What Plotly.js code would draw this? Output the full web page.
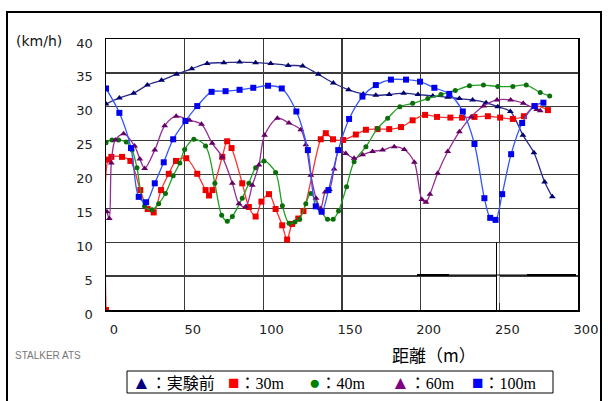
<!DOCTYPE html>
<html>
<head>
<meta charset="utf-8">
<script src="https://cdn.plot.ly/plotly-3.0.1.min.js"></script>
<style>
html,body{margin:0;padding:0;background:#fff;}
#chart{width:608px;height:401px;}
</style>
</head>
<body>
<div id="chart"></div>
<script>
// ---- data (distance m, speed km/h) ----
const xTicks = [0, 50, 100, 150, 200, 250, 300];
const yTicks = [0, 5, 10, 15, 20, 25, 30, 35, 40];
const seriesNames = ["実験前", "30m", "40m", "60m", "100m"];

const navyX = [0, 8.5, 17.6, 26.3, 35.3, 44.9, 54.5, 64.3, 74.9, 84.9, 95.1, 104.7, 115.8, 125, 134.9, 144.5, 154.2, 163.5, 171.5, 180, 189.2, 198.3, 207.7, 217.2, 224.6, 233, 241.6, 249, 257, 265, 272, 278.8, 283.7];
const navyY = [30.4, 31.3, 32.0, 33.2, 33.9, 34.8, 35.6, 36.4, 36.5, 36.6, 36.5, 36.4, 36.1, 36.0, 34.8, 33.5, 32.5, 31.9, 31.7, 31.8, 32.0, 31.8, 31.6, 31.4, 31.2, 31.0, 30.6, 30.0, 29.3, 25.8, 23.2, 18.9, 16.7];

const redX = [0, 1.3, 3.4, 10.2, 15.5, 21.8, 26.5, 30.3, 35, 39.9, 44.5, 51, 58, 63.3, 65.5, 67.7, 73.9, 77, 79.8, 86.6, 90.8, 95.1, 98.8, 103.6, 107.8, 112, 115.1, 118.3, 122.2, 125.5, 136.5, 139.7, 144.3, 150.7, 158.8, 165.2, 172.6, 180, 187.5, 194.9, 202.8, 210.4, 218.9, 226.3, 234.2, 242.7, 250.5, 258.6, 265.6, 272.4, 280.9];
const redY = [0, 22.2, 22.6, 22.6, 22.0, 17.7, 14.9, 14.4, 17.7, 20.1, 22.0, 22.4, 20.1, 17.7, 16.9, 17.7, 22.6, 24.9, 23.9, 18.7, 15.2, 13.8, 16.0, 17.1, 14.9, 12.5, 10.4, 12.7, 13.5, 14.6, 25.2, 26.1, 25.2, 25.1, 25.9, 26.6, 26.7, 26.7, 27.0, 28.0, 28.8, 28.5, 28.4, 28.4, 28.5, 28.6, 28.4, 28.2, 28.6, 30.1, 29.5];

const greenX = [0, 3.8, 8, 12.9, 16.6, 19.7, 24.5, 29.3, 33.5, 37.8, 42.7, 46.9, 50, 55.8, 63.3, 69.2, 73.5, 77.1, 80.3, 86.6, 90.8, 95.1, 100.4, 107.8, 112.1, 116.3, 120.1, 123.1, 127, 130.2, 136.5, 140.8, 144.4, 147.8, 152.9, 157.7, 165.2, 172.6, 179, 186.8, 194.9, 204.5, 212.9, 222, 231, 239.9, 249, 258.6, 267.1, 276, 282];
const greenY = [24.7, 25.1, 25.1, 24.8, 23.6, 21.0, 15.3, 14.8, 15.7, 17.2, 19.8, 21.7, 23.7, 25.2, 24.2, 18.7, 14.0, 13.1, 13.8, 16.5, 18.7, 21.0, 22.0, 20.3, 15.4, 12.8, 13.0, 13.4, 15.7, 17.2, 14.6, 13.4, 13.4, 14.6, 18.2, 21.9, 24.1, 26.8, 28.3, 30.0, 30.5, 31.2, 31.8, 32.4, 33.1, 33.2, 33.0, 33.0, 33.2, 32.1, 31.6];

const purpleX = [0.6, 2.1, 3.4, 5.9, 11.2, 18.2, 21.5, 24.6, 31, 37.3, 44.6, 53.1, 60.7, 67.5, 73.9, 80.3, 84.5, 88.7, 93, 97.2, 100.8, 108.9, 116.3, 123.8, 127, 130.2, 133.5, 136.5, 139.3, 142, 145, 148.2, 152.4, 157.7, 163.1, 169.4, 175.8, 183.2, 189.6, 196, 200.8, 203.4, 205.9, 210.8, 217.2, 224.6, 232.1, 240, 248.5, 257.2, 265.2, 273.8, 276];
const purpleY = [14.5, 13.5, 21.7, 25.1, 26.0, 24.2, 22.3, 20.9, 23.6, 27.2, 28.6, 28.0, 27.4, 24.6, 22.6, 18.7, 15.7, 15.2, 18.4, 21.4, 25.8, 28.3, 27.6, 26.6, 24.4, 19.9, 16.5, 15.0, 17.4, 17.8, 20.8, 23.6, 23.1, 22.4, 22.9, 23.4, 23.6, 24.1, 23.7, 21.8, 16.3, 15.9, 17.1, 20.2, 23.4, 26.3, 28.5, 30.1, 31.0, 31.0, 30.5, 29.6, 29.4];

const blueX = [0, 8.5, 15.9, 20.8, 25.5, 31, 36.7, 42.7, 50.5, 58, 67.1, 76, 84.9, 93.6, 103, 111.7, 121, 128.3, 133.3, 137.1, 141.4, 147.6, 154.5, 163, 171.5, 181.1, 190.7, 199.6, 208.7, 218.2, 226.8, 234.2, 240.5, 244.2, 247.6, 251.8, 257.5, 264.5, 272.4, 278];
const blueY = [32.7, 29.1, 23.9, 16.7, 15.9, 18.7, 21.8, 25.2, 27.9, 30.1, 32.2, 32.3, 32.5, 32.8, 33.1, 32.7, 29.3, 23.6, 15.3, 14.5, 17.7, 23.6, 28.2, 31.5, 33.2, 34.0, 34.0, 33.7, 32.8, 31.9, 29.3, 24.5, 16.5, 13.6, 13.3, 17.1, 23.0, 27.6, 30.1, 30.6];

// ---- layout helpers ----
const W = 608, H = 401;
const M = {l: 106, r: 30, t: 39, b: 91};
const PW = W - M.l - M.r, PH = H - M.t - M.b;
const px = v => (v - M.l) / PW;          // pixel x -> paper
const py = v => (H - M.b - v) / PH;      // pixel y -> paper

function mk(x, y, name, lineColor, markColor, symbol, size) {
  return {
    x: x, y: y, name: name, type: 'scatter', mode: 'lines+markers',
    line: {color: lineColor, width: 1.3, shape: 'spline', smoothing: 0.9},
    marker: {color: markColor, symbol: symbol, size: size,
             line: {color: markColor, width: 0}},
    hoverinfo: 'x+y'
  };
}

const traces = [
  mk(navyX, navyY, seriesNames[0], '#2a2a8c', '#00006e', 'triangle-up', 6),
  mk(redX, redY, seriesNames[1], '#ff3030', '#ee0000', 'square', 6),
  mk(greenX, greenY, seriesNames[2], '#22a022', '#0a6e0a', 'circle', 5),
  mk(purpleX, purpleY, seriesNames[3], '#952b95', '#640064', 'triangle-up', 6),
  mk(blueX, blueY, seriesNames[4], '#3355ff', '#0000ee', 'square', 6)
];

const tickFont = {family: 'DejaVu Sans, sans-serif', size: 13, color: '#222'};

const legendItems = [
  {glyph: '▲', color: '#000080', label: seriesNames[0], x: 130},
  {glyph: '■', color: '#ff0000', label: seriesNames[1], x: 226},
  {glyph: '●', color: '#008000', label: seriesNames[2], x: 307},
  {glyph: '▲', color: '#800080', label: seriesNames[3], x: 389},
  {glyph: '■', color: '#0000ff', label: seriesNames[4], x: 470}
];

const annotations = [
  {text: '(km/h)', xref: 'paper', yref: 'paper', x: px(39), y: py(41),
   xanchor: 'center', yanchor: 'middle', showarrow: false,
   font: {family: 'DejaVu Sans, sans-serif', size: 14, color: '#111'}},
  {text: '距離（m）', xref: 'paper', yref: 'paper', x: px(434), y: py(354),
   xanchor: 'center', yanchor: 'middle', showarrow: false,
   font: {family: 'Noto Sans CJK JP, sans-serif', size: 17, color: '#000'}},
  {text: 'STALKER ATS', xref: 'paper', yref: 'paper', x: px(13), y: py(355),
   xanchor: 'left', yanchor: 'middle', showarrow: false,
   font: {family: 'Liberation Sans, Arial, sans-serif', size: 10, color: '#777'}}
];
legendItems.forEach(it => {
  annotations.push({
    text: '<span style="color:' + it.color + ';font-size:19px">' + it.glyph + '</span>：' + it.label,
    xref: 'paper', yref: 'paper', x: px(it.x), y: py(382),
    xanchor: 'left', yanchor: 'middle', showarrow: false,
    font: {family: 'Liberation Serif, Noto Sans CJK JP, serif', size: 16, color: '#000'}
  });
});

const shapes = [
  // outer frame
  {type: 'rect', xref: 'paper', yref: 'paper', x0: px(7), x1: px(601), y0: py(410), y1: py(12),
   line: {color: '#000', width: 2}, layer: 'below'},
  // legend box
  {type: 'rect', xref: 'paper', yref: 'paper', x0: px(127), x1: px(553), y0: py(393), y1: py(371),
   line: {color: '#000', width: 1}},
  // stray lines in lower right of the original plot
  {type: 'line', xref: 'paper', yref: 'paper', x0: px(498), x1: px(498), y0: py(303), y1: py(243),
   line: {color: '#fff', width: 3}},
  {type: 'line', xref: 'paper', yref: 'paper', x0: px(496.5), x1: px(496.5), y0: py(310), y1: py(242),
   line: {color: '#000', width: 1}},
  {type: 'line', xref: 'paper', yref: 'paper', x0: px(417), x1: px(576), y0: py(275), y1: py(275),
   line: {color: '#000', width: 1}},
  {type: 'line', xref: 'paper', yref: 'paper', x0: px(417), x1: px(449), y0: py(275), y1: py(275),
   line: {color: '#000', width: 2}},
  {type: 'line', xref: 'paper', yref: 'paper', x0: px(527), x1: px(576), y0: py(275), y1: py(275),
   line: {color: '#000', width: 2}}
];

const layout = {
  width: W, height: H,
  margin: M,
  paper_bgcolor: '#fff', plot_bgcolor: '#fff',
  showlegend: false,
  xaxis: {
    range: [0, 300], tickvals: xTicks, ticktext: xTicks.map(String),
    showgrid: true, gridcolor: '#3a3a3a', gridwidth: 1.3,
    showline: true, linecolor: '#000', linewidth: 1.5, mirror: true,
    zeroline: false, ticks: '', tickfont: tickFont,
    ticklabelstandoff: 7, ticklabelshift: 8
  },
  yaxis: {
    range: [0, 40], tickvals: yTicks, ticktext: yTicks.map(String),
    showgrid: true, gridcolor: '#3a3a3a', gridwidth: 1.3,
    showline: true, linecolor: '#000', linewidth: 1.5, mirror: true,
    zeroline: false, ticks: '', tickfont: tickFont,
    ticklabelstandoff: 9, ticklabelshift: 4
  },
  annotations: annotations,
  shapes: shapes
};

Plotly.newPlot('chart', traces, layout, {displayModeBar: false, staticPlot: true});
</script>
</body>
</html>
